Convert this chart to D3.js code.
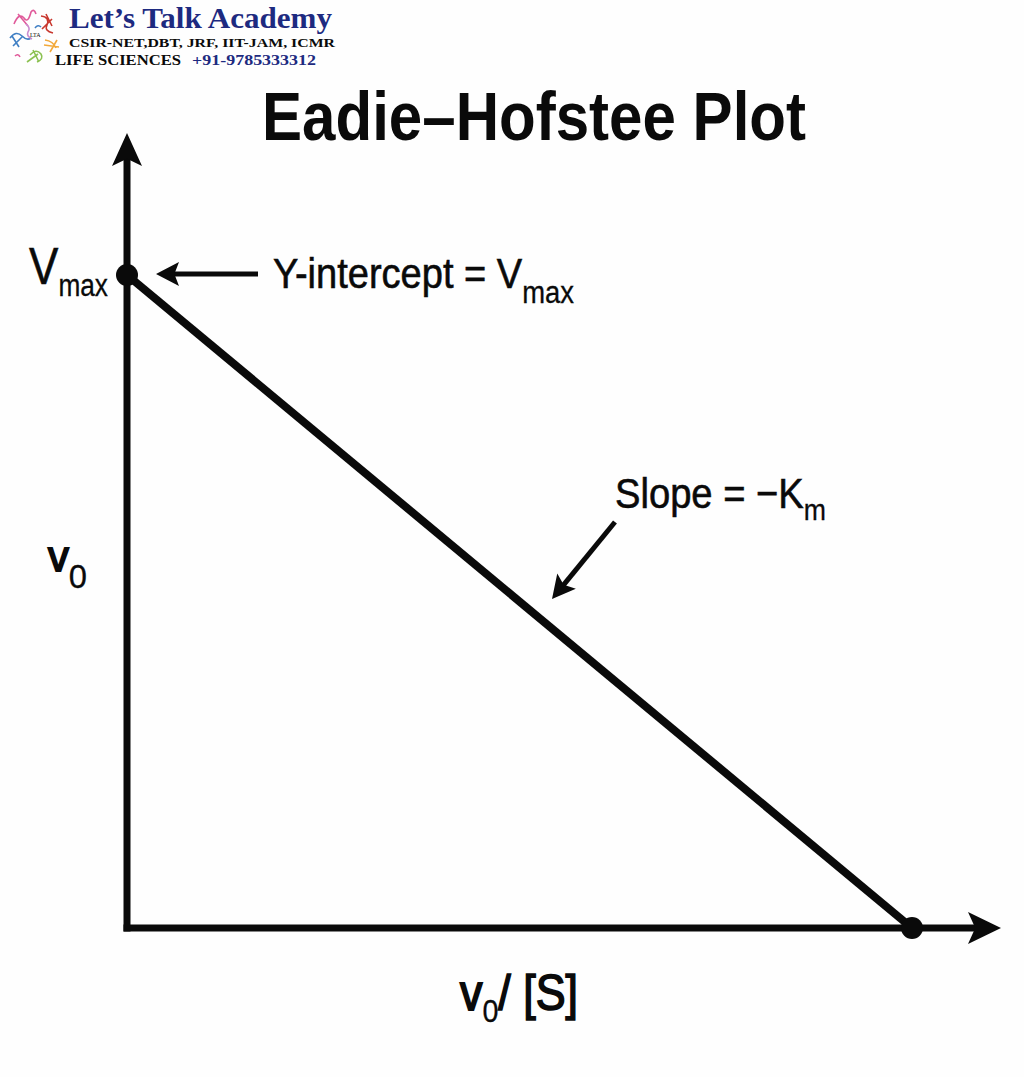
<!DOCTYPE html>
<html>
<head>
<meta charset="utf-8">
<script src="https://cdn.jsdelivr.net/npm/d3@7"></script>
<style>
  html, body { margin: 0; padding: 0; background: #fff; }
  svg { display: block; }
  text { font-family: "Liberation Sans", Arial, sans-serif; fill: #0a0a0a; }
  .brand { font-family: "Liberation Serif", serif; }
</style>
</head>
<body>
<div id="chart"></div>
<script>
// line runs from the y intercept (Vmax) down to the x intercept
const xValues = [0, 1];
const yValues = [1, 0];
const interceptPoints = [0, 1];

const width = 1024, height = 1077;

const x = d3.scaleLinear().domain([0, 1]).range([127, 912]);
const y = d3.scaleLinear().domain([0, 1]).range([928, 275]);

const svg = d3.select("#chart").append("svg")
    .attr("width", width)
    .attr("height", height);

svg.append("rect")
    .attr("width", width)
    .attr("height", height)
    .attr("fill", "#fefefe");

// axes
const axisEndX = 985, axisEndY = 150;
svg.append("line")
    .attr("x1", x(0)).attr("y1", y(0) + 3.5)
    .attr("x2", x(0)).attr("y2", axisEndY)
    .attr("stroke", "#0a0a0a").attr("stroke-width", 7);
svg.append("line")
    .attr("x1", x(0) - 3.5).attr("y1", y(0))
    .attr("x2", axisEndX).attr("y2", y(0))
    .attr("stroke", "#0a0a0a").attr("stroke-width", 7);

// arrow heads
const tri = (tipX, tipY, dx, dy, half) => {
    // dx,dy is the unit direction of the arrow, notch gives the swept back look
    const len = 33;
    const bx = tipX - dx * len, by = tipY - dy * len;
    const nx = tipX - dx * len * 0.78, ny = tipY - dy * len * 0.78;
    return `M${tipX},${tipY}L${bx - dy * half},${by + dx * half}L${nx},${ny}L${bx + dy * half},${by - dx * half}Z`;
};
const heads = [
    [x(0), 133, 0, -1, 15],
    [1001, y(0), 1, 0, 16]
];
svg.selectAll("path.head")
    .data(heads)
    .enter()
    .append("path")
    .attr("class", "head")
    .attr("d", d => tri(d[0], d[1], d[2], d[3], d[4]))
    .attr("fill", "#0a0a0a");

// the line
const line = d3.line()
    .x(d => x(d[0]))
    .y(d => y(d[1]));
svg.append("path")
    .attr("d", line(d3.zip(xValues, yValues)))
    .attr("fill", "none")
    .attr("stroke", "#0a0a0a")
    .attr("stroke-width", 8);

svg.selectAll("circle.pt")
    .data([[interceptPoints[0], interceptPoints[1]], [interceptPoints[1], interceptPoints[0]]])
    .enter()
    .append("circle")
    .attr("class", "pt")
    .attr("cx", d => x(d[0]))
    .attr("cy", d => y(d[1]))
    .attr("r", 11)
    .attr("fill", "#0a0a0a");

// annotation arrows
function annotation(x1, y1, x2, y2, w) {
    const L = Math.hypot(x2 - x1, y2 - y1), dx = (x2 - x1) / L, dy = (y2 - y1) / L;
    svg.append("line")
        .attr("x1", x1).attr("y1", y1)
        .attr("x2", x2 - dx * 18).attr("y2", y2 - dy * 18)
        .attr("stroke", "#0a0a0a").attr("stroke-width", w);
    const half = 12, len = 23;
    const bx = x2 - dx * len, by = y2 - dy * len;
    const nx = x2 - dx * len * 0.8, ny = y2 - dy * len * 0.8;
    svg.append("path")
        .attr("d", `M${x2},${y2}L${bx - dy * half},${by + dx * half}L${nx},${ny}L${bx + dy * half},${by - dx * half}Z`)
        .attr("fill", "#0a0a0a");
}
annotation(258, 274, 156, 274, 5);
annotation(615, 522, 552, 599, 5);

// text helper, fits each piece to the width seen in the picture
function label(str, px, py, size, w, weight) {
    return svg.append("text")
        .attr("x", px).attr("y", py)
        .attr("font-size", size)
        .attr("font-weight", weight || 400)
        .attr("textLength", w)
        .attr("lengthAdjust", "spacingAndGlyphs")
        .text(str);
}

// one text with dropped subscripts, parts are [string, size, dy, stroke]
function subLabel(parts, px, py, w) {
    const t = svg.append("text")
        .attr("x", px).attr("y", py)
        .attr("textLength", w)
        .attr("lengthAdjust", "spacingAndGlyphs");
    parts.forEach(p => {
        t.append("tspan")
            .attr("font-size", p[1])
            .attr("dy", p[2])
            .attr("stroke", "#0a0a0a")
            .attr("stroke-width", p[3])
            .text(p[0]);
    });
    return t;
}

label("Eadie–Hofstee Plot", 262, 140, 68, 544, 700);

subLabel([["V", 52, 0, 0.6], ["max", 31, 12, 0.3]], 29, 284, 79);
subLabel([["Y-intercept = V", 43, 0, 0.6], ["max", 31, 15, 0.3]], 273, 288, 301);
subLabel([["Slope = −K", 43, 0, 0.6], ["m", 30, 12, 0.3]], 615, 508, 211);
subLabel([["v", 42, 0, 1.8], ["0", 33, 17, 0.3]], 48, 571, 39);
subLabel([["v", 50, 0, 1.8], ["0", 32, 12, 0.3], ["/ [S]", 50, -12, 1.6]], 460, 1010, 118);

// academy banner
label("Let’s Talk Academy", 69, 28, 29, 263, 700).attr("class", "brand").style("fill", "#1d2a80");
label("CSIR-NET,DBT, JRF, IIT-JAM, ICMR", 69, 47, 13.5, 266, 700).attr("class", "brand");
label("LIFE SCIENCES", 55, 65, 14, 126, 700).attr("class", "brand");
label("+91-9785333312", 192, 65, 14.5, 124, 700).attr("class", "brand").style("fill", "#1d2a80");

// small molecule logo, just coloured squiggles
const logoColors = ["#e05a9a", "#c8382f", "#3f7fc4", "#8cc152", "#f2a93b", "#c98bd0", "#e05a9a", "#3f7fc4"];
const logoPaths = [
    "M14,24 q5,-12 10,-6 q4,6 7,-6 q3,-4 5,2 M18,14 l10,12",
    "M41,16 q9,1 6,9 q-3,6 6,8 M42,29 l10,-10 M46,14 l6,12",
    "M10,38 q6,-8 12,-2 q5,5 9,2 M13,46 l10,-10 M19,47 l-7,-11",
    "M30,55 q6,-7 11,-1 q3,5 -4,8 M27,62 l11,-8 M33,50 l6,12",
    "M45,40 q8,1 11,8 M50,52 l7,-12 M44,45 l15,2",
    "M26,24 q5,4 2,8 q-2,4 4,7",
    "M15,56 q3,-3 5,1",
    "M35,28 q3,-4 6,-1"
];
svg.append("g").selectAll("path")
    .data(logoPaths)
    .enter()
    .append("path")
    .attr("d", d => d)
    .attr("fill", "none")
    .attr("stroke", (d, i) => logoColors[i])
    .attr("stroke-width", 1.6);
svg.append("text")
    .attr("class", "brand")
    .attr("x", 30).attr("y", 37)
    .attr("font-size", 6)
    .text("LTA");
</script>
</body>
</html>
